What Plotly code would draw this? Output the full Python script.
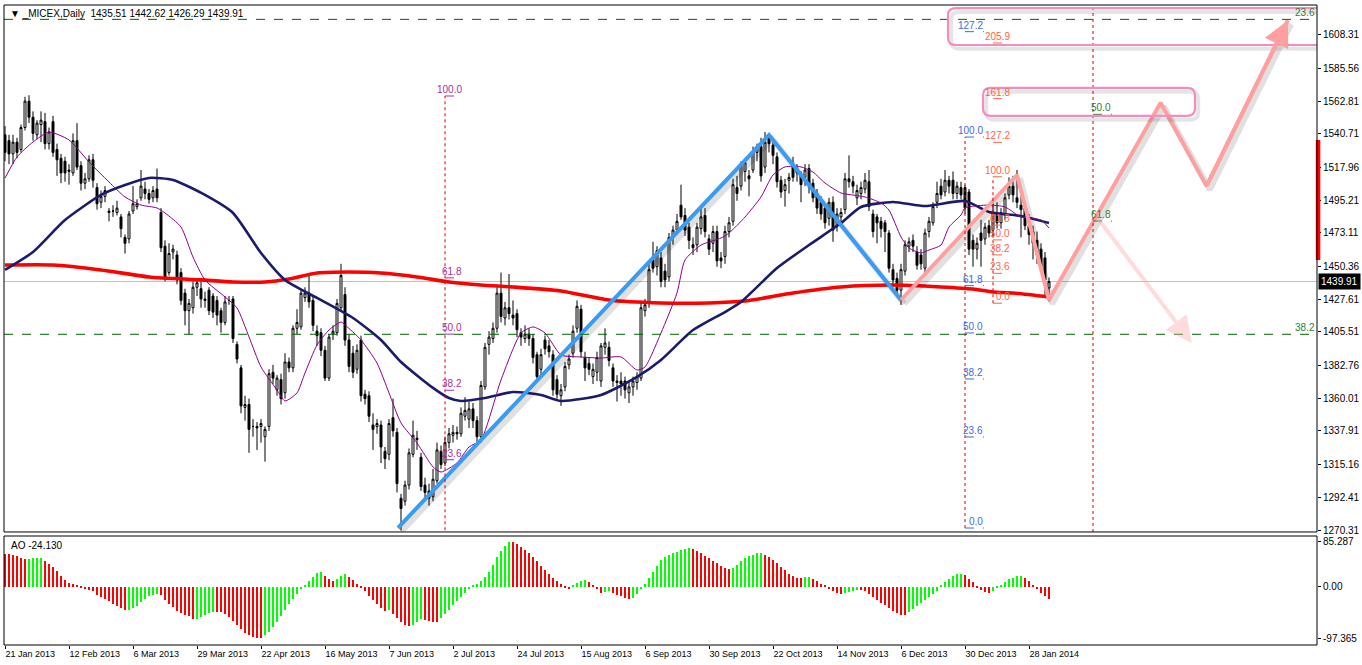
import plotly.graph_objects as go

# ---------------- data ----------------
date_labels = ["21 Jan 2013", "12 Feb 2013", "6 Mar 2013", "29 Mar 2013", "22 Apr 2013",
               "16 May 2013", "7 Jun 2013", "2 Jul 2013", "24 Jul 2013", "15 Aug 2013",
               "6 Sep 2013", "30 Sep 2013", "22 Oct 2013", "14 Nov 2013", "6 Dec 2013",
               "30 Dec 2013", "28 Jan 2014"]
date_label_bars = [0, 16, 32, 48, 64, 80, 96, 112, 128, 144, 160, 176, 192, 208, 224, 240, 256]

opens = [
    1540, 1536, 1527, 1535, 1530, 1545, 1563, 1552, 1540, 1547,
    1549, 1534, 1549, 1530, 1524, 1522, 1516, 1514, 1536, 1519,
    1507, 1510, 1523, 1504, 1494, 1498, 1488, 1488, 1487, 1484,
    1470, 1469, 1488, 1491, 1497, 1503, 1500, 1497, 1503, 1487,
    1464, 1446, 1460, 1458, 1446, 1432, 1420, 1422, 1436, 1435,
    1428, 1434, 1430, 1427, 1420, 1412, 1427, 1428, 1397, 1381,
    1354, 1356, 1341, 1341, 1341, 1334, 1341, 1378, 1366, 1373,
    1364, 1385, 1381, 1408, 1409, 1429, 1432, 1427, 1406, 1405,
    1393, 1374, 1404, 1405, 1422, 1431, 1400, 1391, 1380, 1400,
    1363, 1362, 1342, 1341, 1342, 1324, 1322, 1347, 1337, 1292,
    1290, 1301, 1322, 1333, 1320, 1301, 1297, 1293, 1304, 1324,
    1316, 1330, 1335, 1337, 1336, 1348, 1346, 1353, 1345, 1334,
    1368, 1397, 1401, 1408, 1432, 1415, 1422, 1417, 1418, 1405,
    1401, 1404, 1401, 1390, 1380, 1400, 1396, 1390, 1373, 1362,
    1368, 1383, 1391, 1408, 1421, 1388, 1384, 1375, 1378, 1372,
    1395, 1395, 1381, 1372, 1372, 1372, 1364, 1368, 1371, 1374,
    1420, 1425, 1455, 1450, 1456, 1447, 1443, 1470, 1475, 1492,
    1485, 1477, 1465, 1465, 1476, 1485, 1469, 1466, 1474, 1456,
    1457, 1474, 1481, 1504, 1505, 1515, 1512, 1516, 1528, 1532,
    1518, 1538, 1533, 1525, 1509, 1502, 1509, 1518, 1517, 1512,
    1511, 1517, 1507, 1500, 1494, 1490, 1483, 1494, 1478, 1484,
    1489, 1510, 1508, 1497, 1500, 1503, 1508, 1486, 1484, 1481,
    1480, 1473, 1448, 1442, 1434, 1447, 1464, 1468, 1460, 1458,
    1449, 1474, 1480, 1494, 1505, 1501, 1509, 1509, 1500, 1504,
    1504, 1501, 1468, 1462, 1473, 1469, 1478, 1475, 1486, 1480,
    1485, 1499, 1505, 1497, 1492, 1490, 1478, 1474, 1468, 1462,
    1456, 1435.51]

highs = [
    1546, 1540, 1540, 1538, 1547, 1566, 1567, 1556, 1550, 1556,
    1555, 1545, 1553, 1534, 1527, 1525, 1520, 1541, 1548, 1522,
    1514, 1526, 1527, 1507, 1502, 1505, 1490, 1492, 1495, 1486,
    1472, 1488, 1505, 1496, 1516, 1508, 1503, 1505, 1517, 1490,
    1468, 1466, 1465, 1461, 1449, 1435, 1428, 1440, 1442, 1440,
    1433, 1436, 1432, 1430, 1422, 1430, 1430, 1430, 1399, 1383,
    1362, 1360, 1346, 1344, 1346, 1341, 1380, 1383, 1376, 1377,
    1391, 1388, 1410, 1421, 1434, 1436, 1445, 1430, 1410, 1408,
    1396, 1404, 1410, 1428, 1452, 1436, 1404, 1396, 1397, 1403,
    1366, 1365, 1350, 1346, 1345, 1327, 1346, 1360, 1340, 1295,
    1304, 1326, 1345, 1338, 1323, 1306, 1302, 1312, 1330, 1328,
    1334, 1340, 1342, 1341, 1354, 1361, 1358, 1357, 1348, 1372,
    1398, 1406, 1412, 1436, 1446, 1426, 1445, 1427, 1421, 1408,
    1410, 1408, 1404, 1392, 1394, 1403, 1400, 1393, 1376, 1370,
    1385, 1390, 1410, 1427, 1424, 1392, 1388, 1384, 1392, 1398,
    1408, 1399, 1384, 1376, 1378, 1375, 1372, 1375, 1378, 1426,
    1428, 1452, 1467, 1464, 1460, 1452, 1473, 1478, 1486, 1506,
    1490, 1480, 1470, 1480, 1490, 1490, 1472, 1478, 1478, 1460,
    1478, 1484, 1510, 1512, 1522, 1524, 1516, 1532, 1534, 1538,
    1542, 1541, 1536, 1528, 1512, 1510, 1514, 1525, 1520, 1515,
    1520, 1520, 1510, 1503, 1498, 1493, 1497, 1498, 1490, 1490,
    1514, 1526, 1512, 1506, 1508, 1514, 1516, 1489, 1486, 1484,
    1482, 1475, 1452, 1446, 1452, 1468, 1470, 1472, 1464, 1462,
    1476, 1484, 1494, 1508, 1510, 1516, 1512, 1515, 1508, 1508,
    1506, 1503, 1472, 1470, 1482, 1480, 1482, 1497, 1494, 1490,
    1500, 1511, 1512, 1516, 1498, 1493, 1486, 1478, 1474, 1466,
    1460, 1442.62]

lows = [
    1522, 1520, 1520, 1524, 1528, 1543, 1548, 1536, 1537, 1535,
    1530, 1530, 1525, 1512, 1507, 1508, 1506, 1512, 1516, 1502,
    1503, 1508, 1504, 1489, 1490, 1494, 1481, 1484, 1485, 1470,
    1459, 1466, 1486, 1489, 1495, 1496, 1493, 1494, 1494, 1460,
    1440, 1444, 1455, 1438, 1424, 1410, 1404, 1418, 1430, 1422,
    1422, 1417, 1415, 1410, 1405, 1410, 1424, 1398, 1384, 1350,
    1345, 1323, 1334, 1325, 1330, 1317, 1338, 1370, 1362, 1356,
    1360, 1378, 1378, 1404, 1407, 1426, 1422, 1406, 1396, 1389,
    1372, 1372, 1400, 1403, 1420, 1396, 1378, 1374, 1377, 1358,
    1356, 1344, 1325, 1336, 1316, 1312, 1318, 1334, 1296, 1270,
    1287, 1298, 1320, 1325, 1297, 1292, 1287, 1290, 1302, 1312,
    1314, 1326, 1330, 1332, 1334, 1345, 1340, 1340, 1330, 1330,
    1366, 1390, 1398, 1405, 1412, 1410, 1414, 1410, 1402, 1396,
    1398, 1396, 1384, 1372, 1376, 1390, 1388, 1362, 1360, 1355,
    1365, 1380, 1388, 1405, 1388, 1372, 1376, 1370, 1372, 1368,
    1390, 1382, 1368, 1358, 1362, 1360, 1357, 1362, 1366, 1372,
    1416, 1422, 1446, 1444, 1436, 1436, 1440, 1465, 1472, 1482,
    1471, 1462, 1458, 1460, 1472, 1470, 1458, 1460, 1450, 1449,
    1452, 1470, 1478, 1495, 1502, 1508, 1498, 1514, 1522, 1508,
    1514, 1528, 1520, 1504, 1497, 1491, 1500, 1508, 1508, 1494,
    1505, 1500, 1494, 1486, 1482, 1476, 1478, 1467, 1474, 1480,
    1486, 1504, 1500, 1492, 1496, 1500, 1488, 1470, 1466, 1470,
    1460, 1446, 1436, 1430, 1424, 1444, 1460, 1460, 1448, 1448,
    1446, 1470, 1478, 1490, 1496, 1498, 1500, 1496, 1496, 1496,
    1486, 1458, 1450, 1455, 1450, 1465, 1470, 1470, 1476, 1476,
    1482, 1496, 1494, 1490, 1470, 1475, 1465, 1455, 1452, 1446,
    1430, 1426.29]

closes = [
    1528, 1527, 1535, 1528, 1545, 1563, 1552, 1541, 1548, 1550,
    1534, 1542, 1528, 1523, 1514, 1514, 1515, 1536, 1518, 1507,
    1510, 1523, 1509, 1493, 1498, 1502, 1487, 1488, 1490, 1476,
    1466, 1486, 1493, 1493, 1505, 1500, 1496, 1502, 1497, 1463,
    1443, 1459, 1462, 1441, 1427, 1420, 1425, 1436, 1439, 1428,
    1427, 1420, 1419, 1417, 1412, 1426, 1427, 1401, 1387, 1355,
    1356, 1339, 1341, 1340, 1343, 1339, 1377, 1374, 1374, 1360,
    1385, 1381, 1408, 1412, 1432, 1432, 1426, 1410, 1403, 1393,
    1374, 1402, 1406, 1425, 1444, 1400, 1382, 1378, 1393, 1362,
    1360, 1348, 1339, 1343, 1327, 1319, 1343, 1338, 1302, 1285,
    1301, 1323, 1335, 1332, 1300, 1296, 1292, 1305, 1325, 1315,
    1330, 1336, 1337, 1336, 1350, 1352, 1353, 1345, 1334, 1369,
    1395, 1402, 1408, 1432, 1416, 1422, 1418, 1415, 1407, 1402,
    1404, 1401, 1388, 1375, 1390, 1394, 1392, 1366, 1363, 1366,
    1382, 1387, 1406, 1423, 1392, 1381, 1380, 1380, 1388, 1396,
    1398, 1386, 1372, 1371, 1370, 1366, 1368, 1372, 1375, 1422,
    1424, 1448, 1449, 1461, 1440, 1441, 1470, 1475, 1481, 1484,
    1475, 1468, 1463, 1477, 1484, 1474, 1462, 1474, 1454, 1454,
    1474, 1480, 1506, 1500, 1519, 1521, 1510, 1529, 1532, 1512,
    1535, 1534, 1526, 1508, 1501, 1506, 1511, 1511, 1514, 1506,
    1516, 1505, 1497, 1490, 1486, 1480, 1494, 1475, 1486, 1487,
    1510, 1508, 1505, 1502, 1504, 1509, 1491, 1474, 1480, 1476,
    1474, 1449, 1441, 1434, 1448, 1465, 1467, 1464, 1451, 1452,
    1473, 1481, 1491, 1500, 1499, 1509, 1505, 1500, 1505, 1499,
    1490, 1462, 1462, 1466, 1468, 1477, 1473, 1487, 1480, 1487,
    1497, 1505, 1499, 1494, 1489, 1478, 1472, 1466, 1458, 1450,
    1441, 1439.91]

ao_values = [
    61.9, 61.5, 60.0, 57.5, 55.0, 52.4, 53.1, 53.5, 53.9, 54.2,
    48.0, 43.0, 36.6, 29.1, 20.8, 13.3, 6.9, 4.4, 2.5, -0.6,
    -3.8, -6.3, -8.2, -15.2, -19.6, -22.7, -27.8, -32.2, -36.0, -39.8,
    -44.2, -43.6, -41.1, -36.0, -28.4, -22.7, -18.3, -15.8, -13.3, -16.4,
    -25.9, -32.2, -39.2, -45.5, -49.9, -53.1, -56.2, -61.3, -60.6, -57.5,
    -53.1, -49.9, -47.4, -48.0, -48.6, -52.0, -58.0, -65.0, -72.0, -80.0,
    -87.0, -92.0, -95.0, -96.5, -97.365, -92.0, -85.0, -76.0, -66.0, -55.0,
    -44.0, -33.0, -23.0, -13.0, -4.0, 4.0, 11.0, 18.0, 26.0, 28.5,
    20.0, 14.0, 11.0, 15.0, 21.0, 25.0, 19.0, 12.0, 5.0, -3.0,
    -9.0, -17.0, -25.0, -33.0, -40.0, -47.0, -45.0, -52.0, -60.0, -67.0,
    -72.0, -75.0, -72.0, -66.0, -62.0, -63.0, -65.0, -66.0, -67.0, -60.0,
    -52.0, -44.0, -35.0, -27.0, -20.0, -12.0, -5.0, 2.0, 6.0, 11.0,
    18.0, 28.0, 42.0, 56.0, 68.0, 78.0, 85.287, 84.0, 80.0, 75.0,
    69.0, 63.0, 56.0, 48.0, 40.0, 32.0, 24.0, 16.0, 10.0, 5.0,
    -1.0, -4.0, 2.0, 7.0, 11.0, 13.0, 9.0, 3.0, -5.0, -11.0,
    -10.0, -9.0, -12.0, -15.0, -18.0, -22.0, -24.0, -21.0, -14.0, -5.0,
    5.0, 16.0, 28.0, 40.0, 50.0, 56.0, 60.0, 63.0, 66.0, 69.5,
    72.0, 73.5, 71.0, 67.0, 63.0, 59.0, 54.0, 49.0, 44.0, 40.0,
    36.0, 34.0, 36.0, 42.0, 48.0, 54.0, 58.0, 61.0, 63.0, 64.0,
    61.0, 57.0, 51.0, 45.0, 38.0, 31.0, 25.0, 20.0, 17.0, 16.0,
    17.5, 18.0, 14.0, 10.0, 6.0, 2.0, -4.0, -9.0, -12.0, -14.0,
    -12.0, -10.0, -8.0, -6.0, -7.0, -9.0, -14.0, -19.0, -25.0, -30.0,
    -35.0, -41.0, -46.0, -50.0, -53.0, -54.5, -48.0, -42.0, -36.0, -30.0,
    -25.0, -20.0, -14.0, -8.0, 2.0, 8.0, 15.0, 21.0, 24.0, 25.0,
    22.0, 15.0, 8.0, -2.0, -7.0, -10.0, -12.0, -8.0, -3.0, 3.0,
    9.0, 14.0, 17.0, 19.5, 20.5, 16.0, 10.0, 4.0, -5.0, -12.0,
    -18.0, -24.13]

# moving averages, sampled at bar indices
ma_slow_bars = [0, 12, 24, 36, 49, 57, 65, 71, 78, 86, 94, 103, 111, 119, 127, 139, 151, 164,
                176, 185, 197, 209, 222, 234, 242, 247, 252, 261]
ma_slow_vals = [1451.2, 1451.2, 1447.8, 1443.0, 1441.0, 1439.6, 1439.6, 1441.6, 1445.7, 1446.4,
                1445.7, 1443.0, 1439.6, 1437.5, 1436.2, 1433.5, 1427.3, 1425.3, 1425.3, 1426.6,
                1432.1, 1436.2, 1437.5, 1436.2, 1434.8, 1432.8, 1432.1, 1429.4]

ma_mid_bars = [0, 7, 15, 24, 30, 36, 42, 50, 57, 64, 70, 78, 87, 94, 99, 107, 111, 114, 120, 127,
               134, 139, 149, 158, 164, 172, 180, 184, 193, 201, 209, 214, 222, 230, 240, 246, 254, 261]
ma_mid_vals = [1447.8, 1460.1, 1481.9, 1499.0, 1505.8, 1510.6, 1509.2, 1499.0, 1486.7, 1459.4,
               1441.0, 1428.7, 1415.0, 1400.0, 1385.0, 1367.3, 1360.4, 1358.4, 1360.4, 1364.5,
               1362.5, 1358.4, 1362.5, 1374.8, 1386.4, 1406.8, 1419.1, 1425.9, 1449.1, 1464.8,
               1479.8, 1490.8, 1494.2, 1491.4, 1494.9, 1487.4, 1484.6, 1479.8]

ma_fast_bars = [0, 3, 7, 11, 16, 21, 26, 30, 34, 38, 40, 44, 47, 50, 55, 58, 61, 64, 68, 70,
                73, 75, 78, 81, 84, 85, 89, 93, 96, 99, 103, 107, 109, 113, 116, 119, 124, 129, 132, 135,
                139, 144, 149, 154, 158, 160, 164, 168, 170, 174, 179, 181, 185, 189, 192, 195, 199, 202,
                205, 209, 212, 215, 219, 221, 224, 226, 229, 231, 234, 236, 239, 240, 246, 250, 254, 259, 261]
ma_fast_vals = [1510.5, 1524.9, 1535.1, 1541.9, 1536.5, 1521.5, 1507.8, 1497.6, 1492.1, 1490.1,
                1486.7, 1477.1, 1456.6, 1441.0, 1429.4, 1421.9, 1402.1, 1381.6, 1365.9, 1358.4,
                1363.9, 1377.5, 1396.6, 1406.8, 1412.3, 1410.3, 1400.0, 1384.3, 1363.9, 1343.4,
                1329.7, 1313.4, 1309.9, 1316.1, 1327.0, 1331.8, 1372.7, 1404.8, 1408.9, 1404.8,
                1389.8, 1388.4, 1387.7, 1388.4, 1379.5, 1381.6, 1404.8, 1432.1, 1454.6, 1464.8,
                1469.6, 1473.0, 1483.9, 1497.6, 1512.6, 1518.1, 1518.1, 1514.6, 1507.1, 1500.3,
                1498.9, 1497.6, 1493.5, 1488.7, 1470.3, 1462.8, 1459.4, 1461.4, 1464.8, 1477.1,
                1485.3, 1490.1, 1492.1, 1490.8, 1483.9, 1481.9, 1476.4]

# hand-drawn wave lines (bar index, price)
blue_wave_bars = [98.25, 191, 224]
blue_wave_prices = [1271.8, 1539.9, 1427.3]
pink_wave_bars = [224, 253, 261, 288.9, 300.4, 320.75]
pink_wave_prices = [1427.3, 1512.6, 1427.3, 1561.9, 1505.1, 1618.2]
pink_alt_bars = [272.9, 296.7]
pink_alt_prices = [1484.1, 1398.0]

# rounded target boxes: left bar, right bar, top price, bottom price
box_left_bars = [235.75, 244.5]
box_right_bars = [330.0, 297.5]
box_top_prices = [1626.5, 1572.0]
box_bottom_prices = [1601.3, 1552.9]

# Fibonacci objects
fib_purple_bars = [110, 114.5]
fib_purple_labels = ["100.0", "61.8", "50.0", "38.2", "23.6"]
fib_purple_prices = [1566.5, 1442.4, 1404.0, 1365.7, 1318.3]
fib_purple_zero = 1241.5

fib_blue_bars = [240, 244.75]
fib_blue_labels = ["127.2", "100.0", "61.8", "50.0", "38.2", "23.6", "0.0"]
fib_blue_prices = [1610.4, 1538.5, 1437.1, 1404.8, 1373.4, 1333.8, 1271.7]

fib_orange_bars = [247, 251.5]
fib_orange_labels = ["205.9", "161.8", "127.2", "100.0", "61.8", "50.0", "38.2", "23.6", "0.0"]
fib_orange_prices = [1602.7, 1564.7, 1534.9, 1511.4, 1478.4, 1468.3, 1458.1, 1445.5, 1425.1]

fib_green_bars = [272, 276.75]
fib_green_labels = ["50.0", "61.8"]
fib_green_prices = [1554.0, 1481.2]

green_ray_labels = ["23.6", "38.2"]
green_ray_prices = [1618.8, 1403.9]

price_ticks = [1270.31, 1292.41, 1315.16, 1337.91, 1360.01, 1382.76, 1405.51, 1427.61,
               1450.36, 1473.11, 1495.21, 1517.96, 1540.71, 1562.81, 1585.56, 1608.31]
ao_ticks = [85.287, 0.0, -97.365]
ao_tick_text = ["85.287", "0.00", "-97.365"]

side_bar_prices = [1454.6, 1536.5]

# ---------------- styling / geometry ----------------
FONT = "Liberation Sans"
MAIN_DOMAIN = [0.1766, 1.0]
AO_DOMAIN = [0.0, 0.1703]
X_RANGE = [-0.25, 328.0]
PRICE_RANGE = [1269.0, 1628.6]
AO_RANGE = [-110.5, 96.1]
SHADOW_DX, SHADOW_DY = 0.8, -2.6
BOX_RX, BOX_RY = 2.0, 5.0

assert len(opens) == len(highs) == len(lows) == len(closes) == len(ao_values)
n = len(closes)
bars = list(range(n))

fig = go.Figure()

fig.add_trace(go.Candlestick(
    x=bars, open=opens, high=highs, low=lows, close=closes,
    increasing=dict(line=dict(color="black", width=1), fillcolor="white"),
    decreasing=dict(line=dict(color="black", width=1), fillcolor="black"),
    whiskerwidth=0, xaxis="x", yaxis="y", showlegend=False, hoverinfo="skip"))

for bx, vals, col, w in [(ma_slow_bars, ma_slow_vals, "#FF0000", 3.6),
                         (ma_mid_bars, ma_mid_vals, "#1B1B6E", 2.6),
                         (ma_fast_bars, ma_fast_vals, "#8B008B", 1.0)]:
    fig.add_trace(go.Scatter(x=bx, y=vals, mode="lines", xaxis="x", yaxis="y",
                             line=dict(color=col, width=w, shape="spline", smoothing=0.6),
                             showlegend=False, hoverinfo="skip"))

# AO histogram
ao_colors = ["#00FF00" if i > 0 and v > ao_values[i - 1] else "#FF0000" for i, v in enumerate(ao_values)]
fig.add_trace(go.Bar(x=bars, y=ao_values, marker=dict(color=ao_colors, line=dict(width=0)),
                     width=0.7, xaxis="x", yaxis="y2", showlegend=False, hoverinfo="skip"))

shapes = []
annotations = []

# bid line
shapes.append(dict(type="line", xref="x domain", yref="y", x0=0, x1=1, y0=closes[-1], y1=closes[-1],
                   line=dict(color="#C0C0C0", width=1), layer="below"))

# green full-width rays
for lab, p in zip(green_ray_labels, green_ray_prices):
    shapes.append(dict(type="line", xref="x domain", yref="y", x0=0, x1=1, y0=p, y1=p,
                       line=dict(color="#006400", width=1, dash="dash")))
    annotations.append(dict(xref="x domain", yref="y", x=1, y=p, xanchor="right", yanchor="bottom",
                            text=lab, showarrow=False, borderpad=0, xshift=-1,
                            font=dict(family=FONT, size=10, color="#2E7D32")))


def add_fib(fbars, labels, prices, color, line_top, line_bottom, full=False):
    if full:
        shapes.append(dict(type="line", xref="x", yref="y domain", x0=fbars[0], x1=fbars[0], y0=0, y1=1,
                           line=dict(color="#E00000", width=1, dash="dot")))
    else:
        shapes.append(dict(type="line", xref="x", yref="y", x0=fbars[0], x1=fbars[0],
                           y0=line_bottom, y1=line_top,
                           line=dict(color="#E00000", width=1, dash="dot")))
    for lab, p in zip(labels, prices):
        shapes.append(dict(type="line", xref="x", yref="y", x0=fbars[0], x1=fbars[1], y0=p, y1=p,
                           line=dict(color=color, width=1, dash="dash")))
        annotations.append(dict(xref="x", yref="y", x=fbars[1], y=p, xanchor="right", yanchor="bottom",
                                text=lab, showarrow=False, borderpad=0,
                                font=dict(family=FONT, size=10, color=color)))


add_fib(fib_purple_bars, fib_purple_labels, fib_purple_prices, "#A030A0",
        fib_purple_prices[0], fib_purple_zero)
add_fib(fib_blue_bars, fib_blue_labels, fib_blue_prices, "#4169E1",
        fib_blue_prices[1], fib_blue_prices[-1])
add_fib(fib_orange_bars, fib_orange_labels, fib_orange_prices, "#FF6347",
        fib_orange_prices[3], fib_orange_prices[-1])
add_fib(fib_green_bars, fib_green_labels, fib_green_prices, "#2E7D32", None, None, full=True)

# rounded boxes (with soft shadow)
for x0, x1, y1, y0 in zip(box_left_bars, box_right_bars, box_top_prices, box_bottom_prices):
    for dx, dy, col, w in [(SHADOW_DX, SHADOW_DY, "rgba(0,0,0,0.10)", 4), (0, 0, "#F58CC0", 2.2)]:
        a0, a1, b0, b1 = x0 + dx, x1 + dx, y0 + dy, y1 + dy
        path = (f"M{a0 + BOX_RX},{b1} L{a1 - BOX_RX},{b1} Q{a1},{b1} {a1},{b1 - BOX_RY} "
                f"L{a1},{b0 + BOX_RY} Q{a1},{b0} {a1 - BOX_RX},{b0} L{a0 + BOX_RX},{b0} "
                f"Q{a0},{b0} {a0},{b0 + BOX_RY} L{a0},{b1 - BOX_RY} Q{a0},{b1} {a0 + BOX_RX},{b1} Z")
        shapes.append(dict(type="path", xref="x", yref="y", path=path, line=dict(color=col, width=w)))

# shadows + wave lines
for wb, wp, col in [(blue_wave_bars, blue_wave_prices, "#3A9BF2"),
                    (pink_wave_bars, pink_wave_prices, "#FFA0A0")]:
    fig.add_trace(go.Scatter(x=[b + SHADOW_DX for b in wb], y=[p + SHADOW_DY for p in wp], mode="lines",
                             line=dict(color="rgba(0,0,0,0.12)", width=6), xaxis="x", yaxis="y",
                             showlegend=False, hoverinfo="skip"))
    fig.add_trace(go.Scatter(x=wb, y=wp, mode="lines", line=dict(color=col, width=4),
                             xaxis="x", yaxis="y", showlegend=False, hoverinfo="skip"))

# arrow heads
annotations.append(dict(xref="x", yref="y", axref="x", ayref="y",
                        x=pink_wave_bars[-1], y=pink_wave_prices[-1],
                        ax=pink_wave_bars[-2], ay=pink_wave_prices[-2],
                        showarrow=True, arrowhead=2, arrowsize=1.3, arrowwidth=4,
                        arrowcolor="#FFA0A0", text=""))
annotations.append(dict(xref="x", yref="y", axref="x", ayref="y",
                        x=pink_alt_bars[-1], y=pink_alt_prices[-1],
                        ax=pink_alt_bars[0], ay=pink_alt_prices[0],
                        showarrow=True, arrowhead=2, arrowsize=1.3, arrowwidth=4,
                        arrowcolor="rgba(255,170,170,0.40)", text=""))

# red marker on price scale
shapes.append(dict(type="line", xref="x domain", yref="y", x0=1.0008, x1=1.0008,
                   y0=side_bar_prices[0], y1=side_bar_prices[1], line=dict(color="#FF0000", width=4.5)))

# panel frames
shapes.append(dict(type="rect", xref="paper", yref="paper", x0=0, x1=1, y0=MAIN_DOMAIN[0], y1=1,
                   line=dict(color="black", width=1)))
shapes.append(dict(type="rect", xref="paper", yref="paper", x0=0, x1=1, y0=0, y1=AO_DOMAIN[1],
                   line=dict(color="black", width=1)))

# header / labels
annotations.append(dict(xref="paper", yref="paper", x=0.003, y=1, xanchor="left", yanchor="top",
                        yshift=-1, showarrow=False,
                        text=f"\u25BC _MICEX,Daily  {opens[-1]:.2f} {highs[-1]:.2f} {lows[-1]:.2f} {closes[-1]:.2f}",
                        font=dict(family=FONT, size=10, color="black")))
annotations.append(dict(xref="paper", yref="paper", x=0.004, y=AO_DOMAIN[1], xanchor="left",
                        yanchor="top", yshift=-2, showarrow=False, text=f"AO {ao_values[-1]:.3f}",
                        font=dict(family=FONT, size=10, color="black")))
annotations.append(dict(xref="paper", yref="y", x=1, y=closes[-1], xanchor="left", yanchor="middle",
                        xshift=1, showarrow=False, text=f"{closes[-1]:.2f}", bgcolor="black",
                        borderpad=2, font=dict(family=FONT, size=10, color="white")))

fig.update_layout(
    width=1362, height=665,
    margin=dict(l=4, r=45, t=5, b=20, autoexpand=False),
    paper_bgcolor="white", plot_bgcolor="white",
    font=dict(family=FONT, size=10, color="black"),
    showlegend=False, bargap=0,
    xaxis=dict(domain=[0, 1], range=X_RANGE, anchor="y2", showgrid=False, zeroline=False,
               automargin=False,
               tickmode="array", tickvals=date_label_bars, ticktext=date_labels,
               ticks="outside", ticklen=3, tickcolor="black", ticklabelposition="outside right",
               tickfont=dict(family=FONT, size=9), rangeslider=dict(visible=False), showline=False),
    yaxis=dict(domain=MAIN_DOMAIN, range=PRICE_RANGE, side="right", anchor="x", showgrid=False,
               zeroline=False, automargin=False, tickmode="array", tickvals=price_ticks,
               ticktext=[f"{v:.2f}" for v in price_ticks], ticks="outside", ticklen=3,
               tickcolor="black", tickfont=dict(family=FONT, size=10)),
    yaxis2=dict(domain=AO_DOMAIN, range=AO_RANGE, side="right", anchor="x", showgrid=False,
                zeroline=False, automargin=False, tickmode="array", tickvals=ao_ticks,
                ticktext=ao_tick_text, ticks="outside", ticklen=3, tickcolor="black",
                tickfont=dict(family=FONT, size=10)),
    shapes=shapes, annotations=annotations,
)

fig.write_html("out.html", config={"displayModeBar": False},
               post_script="document.body.style.margin='0px';document.body.style.padding='0px';")
